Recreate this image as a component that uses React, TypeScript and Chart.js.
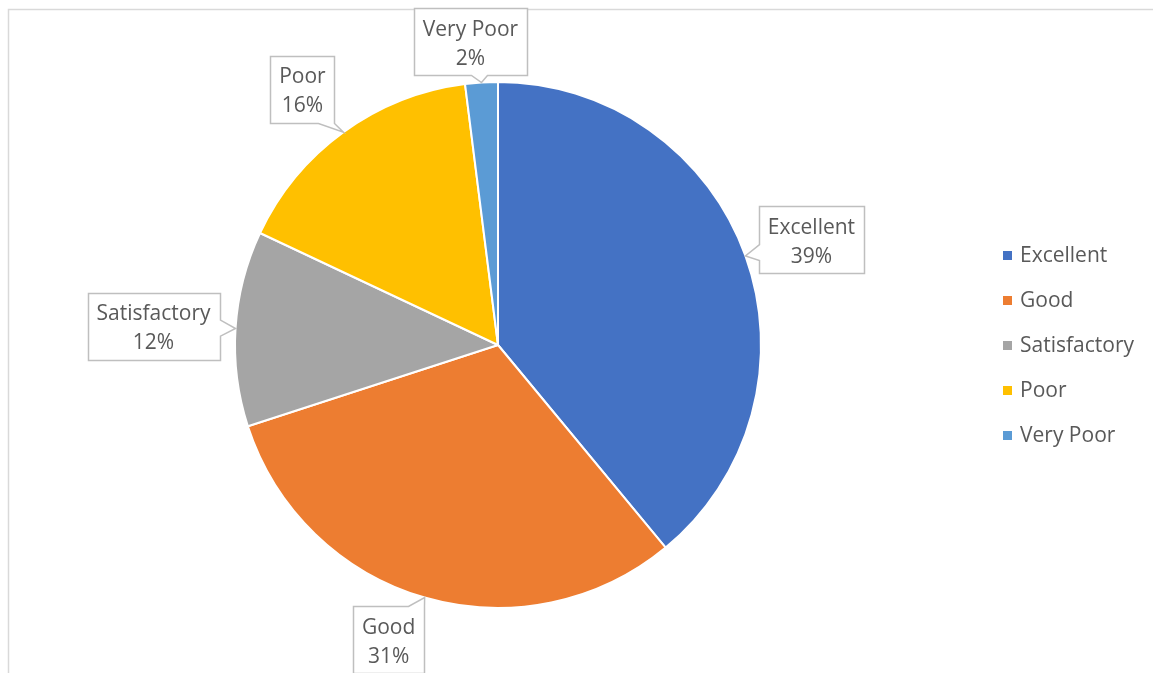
import React, { useEffect, useRef } from "react";
import { Chart, registerables } from "chart.js";

Chart.register(...registerables);

const labels = ["Excellent", "Good", "Satisfactory", "Poor", "Very Poor"];
const values = [39, 31, 12, 16, 2];
const colors = ["#4472C4", "#ED7D31", "#A5A5A5", "#FFC000", "#5B9BD5"];
// callout box centre offsets from the slice's outer edge point (layout only)
const calloutOffsets: [number, number][] = [
  [66, -16],
  [-36, 42],
  [-82, -2],
  [-41, -43],
  [-11, -41],
];

const FONT = '21px "Open Sans", "Noto Sans", sans-serif';
const TEXT_COLOR = "#595959";

const decorPlugin = {
  id: "decor",
  beforeDraw(chart: any) {
    const ctx = chart.ctx;
    ctx.save();
    ctx.strokeStyle = "#d9d9d9";
    ctx.lineWidth = 1.5;
    ctx.beginPath();
    ctx.moveTo(8.5, chart.height);
    ctx.lineTo(8.5, 9.5);
    ctx.lineTo(chart.width, 9.5);
    ctx.stroke();
    ctx.restore();
  },
  afterDraw(chart: any) {
    const ctx = chart.ctx;
    const meta = chart.getDatasetMeta(0);
    const data = chart.data.datasets[0].data as number[];
    const total = data.reduce((a, b) => a + b, 0);
    ctx.save();
    ctx.font = FONT;
    // callouts
    meta.data.forEach((arc: any, i: number) => {
      const { x, y, startAngle, endAngle, outerRadius } = arc.getProps(
        ["x", "y", "startAngle", "endAngle", "outerRadius"],
        true
      );
      const mid = (startAngle + endAngle) / 2;
      const tx = x + Math.cos(mid) * outerRadius;
      const ty = y + Math.sin(mid) * outerRadius;
      const lines = [
        chart.data.labels[i] as string,
        Math.round((data[i] / total) * 100) + "%",
      ];
      const tw = Math.max(...lines.map((l) => ctx.measureText(l).width));
      const w = Math.round(tw + 18);
      const h = 67;
      const cx = tx + calloutOffsets[i][0];
      const cy = ty + calloutOffsets[i][1];
      const L = Math.round(cx - w / 2) + 0.5;
      const T = Math.round(cy - h / 2) + 0.5;
      const R = L + w;
      const B = T + h;
      const dx = tx - cx;
      const dy = ty - cy;
      const sx = dx !== 0 ? w / 2 / Math.abs(dx) : Infinity;
      const sy = dy !== 0 ? h / 2 / Math.abs(dy) : Infinity;
      const half = 8;
      const clamp = (v: number, a: number, b: number) => Math.max(a, Math.min(b, v));
      let pts: [number, number][] = [];
      if (sx < sy) {
        const iy = clamp(cy + dy * sx, T + half, B - half);
        if (dx > 0) {
          pts = [[L, T], [R, T], [R, iy - half], [tx, ty], [R, iy + half], [R, B], [L, B]];
        } else {
          pts = [[L, T], [R, T], [R, B], [L, B], [L, iy + half], [tx, ty], [L, iy - half]];
        }
      } else {
        const ix = clamp(cx + dx * sy, L + half, R - half);
        if (dy > 0) {
          pts = [[L, T], [R, T], [R, B], [ix + half, B], [tx, ty], [ix - half, B], [L, B]];
        } else {
          pts = [[L, T], [ix - half, T], [tx, ty], [ix + half, T], [R, T], [R, B], [L, B]];
        }
      }
      ctx.beginPath();
      pts.forEach((p, k) => (k === 0 ? ctx.moveTo(p[0], p[1]) : ctx.lineTo(p[0], p[1])));
      ctx.closePath();
      ctx.fillStyle = "#ffffff";
      ctx.fill();
      ctx.strokeStyle = "#bfbfbf";
      ctx.lineWidth = 1.5;
      ctx.stroke();
      ctx.fillStyle = TEXT_COLOR;
      ctx.textAlign = "center";
      ctx.textBaseline = "middle";
      ctx.fillText(lines[0], cx, cy - 12);
      ctx.fillText(lines[1], cx, cy + 17);
    });
    // legend
    const lx = 1003;
    const ly = 255;
    const gap = 45;
    (chart.data.labels as string[]).forEach((lab, i) => {
      const yy = ly + gap * i;
      ctx.fillStyle = colors[i];
      ctx.fillRect(lx, yy - 4, 9, 9);
      ctx.fillStyle = TEXT_COLOR;
      ctx.textAlign = "left";
      ctx.textBaseline = "middle";
      ctx.fillText(lab, lx + 17, yy + 1);
    });
    ctx.restore();
  },
};

export default function App() {
  const ref = useRef<HTMLCanvasElement | null>(null);
  useEffect(() => {
    if (!ref.current) return;
    const chart = new Chart(ref.current, {
      type: "pie",
      data: {
        labels,
        datasets: [
          {
            data: values,
            backgroundColor: colors,
            borderColor: "#ffffff",
            borderWidth: 2,
            hoverOffset: 0,
          },
        ],
      },
      options: {
        responsive: false,
        animation: false,
        devicePixelRatio: 1,
        layout: { padding: { left: 234, top: 81, right: 391, bottom: 64 } },
        plugins: {
          legend: { display: false },
          tooltip: { enabled: false },
        },
      },
      plugins: [decorPlugin],
    });
    return () => chart.destroy();
  }, []);
  return (
    <div style={{ position: "fixed", left: 0, top: 0, width: 1153, height: 673, background: "#fff" }}>
      <canvas ref={ref} width={1153} height={673} />
    </div>
  );
}
